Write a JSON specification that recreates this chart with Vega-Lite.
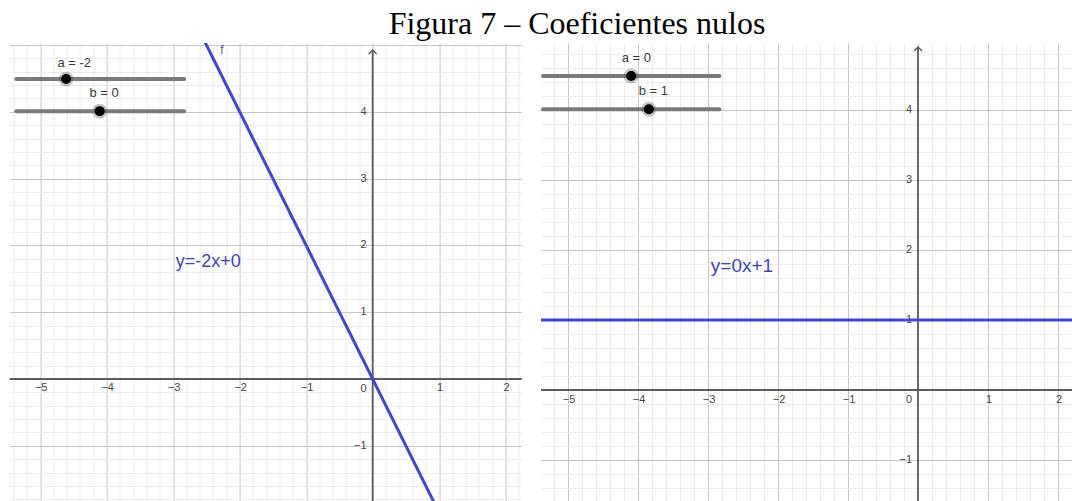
{
  "$schema": "https://vega.github.io/schema/vega-lite/v6.json",
  "autosize": {"type": "pad"},
  "padding": {"left": 8.6, "top": 8, "right": 0, "bottom": 0},
  "background": "white",
  "title": {
    "text": "Figura 7 – Coeficientes nulos",
    "font": "Liberation Serif",
    "fontSize": 32,
    "fontWeight": "normal",
    "color": "#000000",
    "anchor": "start",
    "dx": 380,
    "offset": 2
  },
  "spacing": 17.4,
  "config": {
    "view": {"stroke": null},
    "text": {"font": "Liberation Sans"}
  },
  "datasets": {
    "fnA": [{"x": -3, "y": 6}, {"x": 1.2, "y": -2.4}],
    "fnB": [{"x": -6, "y": 1}, {"x": 3, "y": 1}],
    "axesA": [{"o": 0, "y0": -2, "top": 4.925}],
    "axesB": [{"o": 0, "y0": -2, "top": 4.9}],
    "xticksA": [{"v": -5}, {"v": -4}, {"v": -3}, {"v": -2}, {"v": -1}, {"v": 1}, {"v": 2}],
    "yticksA": [{"v": -1}, {"v": 1}, {"v": 2}, {"v": 3}, {"v": 4}],
    "xticksB": [{"v": -5}, {"v": -4}, {"v": -3}, {"v": -2}, {"v": -1}, {"v": 1}, {"v": 2}],
    "yticksB": [{"v": -1}, {"v": 1}, {"v": 2}, {"v": 3}, {"v": 4}],
    "origin": [{"v": 0}],
    "slidersA": [
      {"label": "a = -2", "y": 4.49, "x0": -5.36, "x1": -2.835, "knob": -4.61, "lx": -4.74, "ly": 4.73},
      {"label": "b = 0", "y": 4.01, "x0": -5.36, "x1": -2.835, "knob": -4.105, "lx": -4.26, "ly": 4.28}
    ],
    "slidersB": [
      {"label": "a = 0", "y": 4.486, "x0": -5.357, "x1": -2.837, "knob": -4.097, "lx": -4.234, "ly": 4.74},
      {"label": "b = 1", "y": 4.01, "x0": -5.357, "x1": -2.837, "knob": -3.845, "lx": -3.99, "ly": 4.27}
    ],
    "eqA": [{"x": -2.96, "y": 1.68, "label": "y=-2x+0"}],
    "eqB": [{"x": -2.96, "y": 1.69, "label": "y=0x+1"}],
    "nameA": [{"x": -2.265, "y": 4.925, "label": "f"}]
  },
  "hconcat": [
    {
      "width": 512,
      "height": 458,
      "layer": [
        {
          "data": {"name": "axesA"},
          "mark": {"type": "rule", "color": "#5c5c5c", "strokeWidth": 1.8},
          "encoding": {"y": {"field": "o", "type": "quantitative"}}
        },
        {
          "data": {"name": "axesA"},
          "mark": {"type": "rule", "color": "#5c5c5c", "strokeWidth": 1.8, "clip": true},
          "encoding": {
            "x": {"field": "o", "type": "quantitative"},
            "y": {"field": "y0", "type": "quantitative"},
            "y2": {"field": "top"}
          }
        },
        {
          "data": {"name": "axesA"},
          "mark": {"type": "point", "shape": "M-1,1L0,0L1,1", "filled": false, "stroke": "#5c5c5c", "strokeWidth": 1.5, "size": 64, "opacity": 1},
          "encoding": {
            "x": {"field": "o", "type": "quantitative"},
            "y": {"field": "top", "type": "quantitative"}
          }
        },
        {
          "data": {"name": "xticksA"},
          "mark": {"type": "text", "fontSize": 11, "color": "#444444", "align": "center", "baseline": "middle", "dx": 1, "dy": 9},
          "encoding": {
            "x": {"field": "v", "type": "quantitative"},
            "y": {"datum": 0, "type": "quantitative"},
            "text": {"field": "v", "type": "quantitative", "format": "d"}
          }
        },
        {
          "data": {"name": "yticksA"},
          "mark": {"type": "text", "fontSize": 11, "color": "#444444", "align": "right", "baseline": "middle", "dx": -6},
          "encoding": {
            "x": {"datum": 0, "type": "quantitative"},
            "y": {"field": "v", "type": "quantitative"},
            "text": {"field": "v", "type": "quantitative", "format": "d"}
          }
        },
        {
          "data": {"name": "origin"},
          "mark": {"type": "text", "fontSize": 11, "color": "#444444", "align": "center", "baseline": "middle", "dx": -9, "dy": 10},
          "encoding": {
            "x": {"field": "v", "type": "quantitative"},
            "y": {"field": "v", "type": "quantitative"},
            "text": {"field": "v", "type": "quantitative", "format": "d"}
          }
        },
        {
          "data": {"name": "slidersA"},
          "mark": {"type": "rule", "color": "#7a7a7a", "strokeWidth": 4, "strokeCap": "round"},
          "encoding": {
            "x": {"field": "x0", "type": "quantitative"},
            "x2": {"field": "x1"},
            "y": {"field": "y", "type": "quantitative"}
          }
        },
        {
          "data": {"name": "slidersA"},
          "mark": {"type": "point", "filled": true, "color": "#555555", "opacity": 0.35, "size": 220},
          "encoding": {
            "x": {"field": "knob", "type": "quantitative"},
            "y": {"field": "y", "type": "quantitative"}
          }
        },
        {
          "data": {"name": "slidersA"},
          "mark": {"type": "point", "filled": true, "color": "#000000", "opacity": 1, "size": 100},
          "encoding": {
            "x": {"field": "knob", "type": "quantitative"},
            "y": {"field": "y", "type": "quantitative"}
          }
        },
        {
          "data": {"name": "slidersA"},
          "mark": {"type": "text", "fontSize": 13, "color": "#3a3a3a", "align": "left", "baseline": "middle"},
          "encoding": {
            "x": {"field": "lx", "type": "quantitative"},
            "y": {"field": "ly", "type": "quantitative"},
            "text": {"field": "label"}
          }
        },
        {
          "data": {"name": "eqA"},
          "mark": {"type": "text", "fontSize": 18, "color": "#4343b3", "align": "left", "baseline": "alphabetic"},
          "encoding": {
            "x": {"field": "x", "type": "quantitative"},
            "y": {"field": "y", "type": "quantitative"},
            "text": {"field": "label"}
          }
        },
        {
          "data": {"name": "nameA"},
          "mark": {"type": "text", "fontSize": 12, "color": "#55557a", "align": "center", "baseline": "middle"},
          "encoding": {
            "x": {"field": "x", "type": "quantitative"},
            "y": {"field": "y", "type": "quantitative"},
            "text": {"field": "label"}
          }
        },
        {
          "data": {"name": "fnA"},
          "mark": {"type": "line", "color": "#4444cc", "strokeWidth": 3, "clip": true},
          "encoding": {
            "x": {
              "field": "x", "type": "quantitative",
              "scale": {"domain": [-5.46, 2.24], "nice": false, "zero": false},
              "axis": {
                "title": null, "labels": false, "ticks": false, "domain": false, "grid": true,
                "gridWidth": 1, "tickCount": 500,
                "gridColor": {"condition": {"test": "abs(datum.value - round(datum.value)) < 0.001", "value": "#c6c6c6"}, "value": "#ececec"},
                "values": [-5.4, -5.2, -5, -4.8, -4.6, -4.4, -4.2, -4, -3.8, -3.6, -3.4, -3.2, -3, -2.8, -2.6, -2.4, -2.2, -2, -1.8, -1.6, -1.4, -1.2, -1, -0.8, -0.6, -0.4, -0.2, 0, 0.2, 0.4, 0.6, 0.8, 1, 1.2, 1.4, 1.6, 1.8, 2, 2.2]
              }
            },
            "y": {
              "field": "y", "type": "quantitative",
              "scale": {"domain": [-1.826, 5.03], "nice": false, "zero": false},
              "axis": {
                "title": null, "labels": false, "ticks": false, "domain": false, "grid": true,
                "gridWidth": 1, "tickCount": 500,
                "gridColor": {"condition": {"test": "abs(datum.value - round(datum.value)) < 0.001", "value": "#c6c6c6"}, "value": "#ececec"},
                "values": [-1.8, -1.6, -1.4, -1.2, -1, -0.8, -0.6, -0.4, -0.2, 0, 0.2, 0.4, 0.6, 0.8, 1, 1.2, 1.4, 1.6, 1.8, 2, 2.2, 2.4, 2.6, 2.8, 3, 3.2, 3.4, 3.6, 3.8, 4, 4.2, 4.4, 4.6, 4.8, 5]
              }
            }
          }
        }
      ]
    },
    {
      "width": 531,
      "height": 458,
      "layer": [
        {
          "data": {"name": "axesB"},
          "mark": {"type": "rule", "color": "#5c5c5c", "strokeWidth": 1.8},
          "encoding": {"y": {"field": "o", "type": "quantitative"}}
        },
        {
          "data": {"name": "axesB"},
          "mark": {"type": "rule", "color": "#5c5c5c", "strokeWidth": 1.8, "clip": true},
          "encoding": {
            "x": {"field": "o", "type": "quantitative"},
            "y": {"field": "y0", "type": "quantitative"},
            "y2": {"field": "top"}
          }
        },
        {
          "data": {"name": "axesB"},
          "mark": {"type": "point", "shape": "M-1,1L0,0L1,1", "filled": false, "stroke": "#5c5c5c", "strokeWidth": 1.5, "size": 64, "opacity": 1},
          "encoding": {
            "x": {"field": "o", "type": "quantitative"},
            "y": {"field": "top", "type": "quantitative"}
          }
        },
        {
          "data": {"name": "xticksB"},
          "mark": {"type": "text", "fontSize": 11, "color": "#444444", "align": "center", "baseline": "middle", "dx": 1, "dy": 10},
          "encoding": {
            "x": {"field": "v", "type": "quantitative"},
            "y": {"datum": 0, "type": "quantitative"},
            "text": {"field": "v", "type": "quantitative", "format": "d"}
          }
        },
        {
          "data": {"name": "yticksB"},
          "mark": {"type": "text", "fontSize": 11, "color": "#444444", "align": "right", "baseline": "middle", "dx": -6},
          "encoding": {
            "x": {"datum": 0, "type": "quantitative"},
            "y": {"field": "v", "type": "quantitative"},
            "text": {"field": "v", "type": "quantitative", "format": "d"}
          }
        },
        {
          "data": {"name": "origin"},
          "mark": {"type": "text", "fontSize": 11, "color": "#444444", "align": "center", "baseline": "middle", "dx": -9, "dy": 10},
          "encoding": {
            "x": {"field": "v", "type": "quantitative"},
            "y": {"field": "v", "type": "quantitative"},
            "text": {"field": "v", "type": "quantitative", "format": "d"}
          }
        },
        {
          "data": {"name": "slidersB"},
          "mark": {"type": "rule", "color": "#7a7a7a", "strokeWidth": 4, "strokeCap": "round"},
          "encoding": {
            "x": {"field": "x0", "type": "quantitative"},
            "x2": {"field": "x1"},
            "y": {"field": "y", "type": "quantitative"}
          }
        },
        {
          "data": {"name": "slidersB"},
          "mark": {"type": "point", "filled": true, "color": "#555555", "opacity": 0.35, "size": 220},
          "encoding": {
            "x": {"field": "knob", "type": "quantitative"},
            "y": {"field": "y", "type": "quantitative"}
          }
        },
        {
          "data": {"name": "slidersB"},
          "mark": {"type": "point", "filled": true, "color": "#000000", "opacity": 1, "size": 100},
          "encoding": {
            "x": {"field": "knob", "type": "quantitative"},
            "y": {"field": "y", "type": "quantitative"}
          }
        },
        {
          "data": {"name": "slidersB"},
          "mark": {"type": "text", "fontSize": 13, "color": "#3a3a3a", "align": "left", "baseline": "middle"},
          "encoding": {
            "x": {"field": "lx", "type": "quantitative"},
            "y": {"field": "ly", "type": "quantitative"},
            "text": {"field": "label"}
          }
        },
        {
          "data": {"name": "eqB"},
          "mark": {"type": "text", "fontSize": 19, "color": "#4343b3", "align": "left", "baseline": "alphabetic"},
          "encoding": {
            "x": {"field": "x", "type": "quantitative"},
            "y": {"field": "y", "type": "quantitative"},
            "text": {"field": "label"}
          }
        },
        {
          "data": {"name": "fnB"},
          "mark": {"type": "line", "color": "#4444cc", "strokeWidth": 3, "clip": true},
          "encoding": {
            "x": {
              "field": "x", "type": "quantitative",
              "scale": {"domain": [-5.386, 2.2], "nice": false, "zero": false},
              "axis": {
                "title": null, "labels": false, "ticks": false, "domain": false, "grid": true,
                "gridWidth": 1, "tickCount": 500,
                "gridColor": {"condition": {"test": "abs(datum.value - round(datum.value)) < 0.001", "value": "#c6c6c6"}, "value": "#ececec"},
                "values": [-5.2, -5, -4.8, -4.6, -4.4, -4.2, -4, -3.8, -3.6, -3.4, -3.2, -3, -2.8, -2.6, -2.4, -2.2, -2, -1.8, -1.6, -1.4, -1.2, -1, -0.8, -0.6, -0.4, -0.2, 0, 0.2, 0.4, 0.6, 0.8, 1, 1.2, 1.4, 1.6, 1.8, 2, 2.2]
              }
            },
            "y": {
              "field": "y", "type": "quantitative",
              "scale": {"domain": [-1.586, 4.957], "nice": false, "zero": false},
              "axis": {
                "title": null, "labels": false, "ticks": false, "domain": false, "grid": true,
                "gridWidth": 1, "tickCount": 500,
                "gridColor": {"condition": {"test": "abs(datum.value - round(datum.value)) < 0.001", "value": "#c6c6c6"}, "value": "#ececec"},
                "values": [-1.4, -1.2, -1, -0.8, -0.6, -0.4, -0.2, 0, 0.2, 0.4, 0.6, 0.8, 1, 1.2, 1.4, 1.6, 1.8, 2, 2.2, 2.4, 2.6, 2.8, 3, 3.2, 3.4, 3.6, 3.8, 4, 4.2, 4.4, 4.6, 4.8]
              }
            }
          }
        }
      ]
    }
  ]
}
